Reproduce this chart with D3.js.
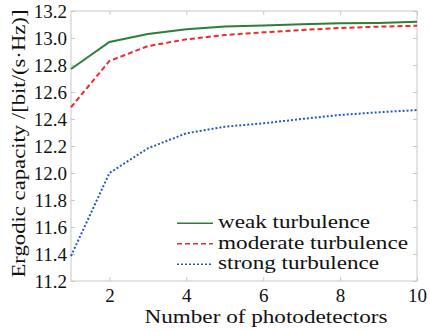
<!DOCTYPE html>
<html>
<head>
<meta charset="utf-8">
<script src="https://cdn.jsdelivr.net/npm/d3@7"></script>
<style>
  body { margin: 0; background: #fff; }
  svg text { font-family: "Liberation Serif", "DejaVu Serif", serif; }
</style>
</head>
<body>
<div id="chart"></div>
<script>
// number of photodetectors
const detectors = [1, 2, 3, 4, 5, 6, 7, 8, 9, 10];

// ergodic capacity, bit/(s*Hz)
const weak = [12.77, 12.97, 13.03, 13.065, 13.085, 13.092, 13.102, 13.109, 13.112, 13.12];
const moderate = [12.487, 12.83, 12.94, 12.99, 13.022, 13.042, 13.059, 13.074, 13.084, 13.091];
const strong = [11.385, 12.0, 12.183, 12.294, 12.343, 12.368, 12.40, 12.43, 12.45, 12.466];

const seriesNames = ["weak turbulence", "moderate turbulence", "strong turbulence"];
const xTicks = [2, 4, 6, 8, 10];
const yTicks = [11.2, 11.4, 11.6, 11.8, 12.0, 12.2, 12.4, 12.6, 12.8, 13.0, 13.2];

const width = 430, height = 332;
const margin = {top: 11, right: 13, bottom: 51, left: 71};
const fontSize = 19;

// the reference face is a wide schoolbook serif, so long strings get stretched
const series = [
  {name: seriesNames[0], values: weak, color: "#2e7d3a", dash: null, len: 152},
  {name: seriesNames[1], values: moderate, color: "#ee2b2b", dash: "5,3", len: 190},
  {name: seriesNames[2], values: strong, color: "#2a56bd", dash: "2,2", len: 161}
];

const svg = d3.select("#chart").append("svg")
  .attr("width", width)
  .attr("height", height);

const x = d3.scaleLinear()
  .domain([1, 10])
  .range([margin.left, width - margin.right]);

const y = d3.scaleLinear()
  .domain([11.2, 13.2])
  .range([height - margin.bottom, margin.top]);

const frame = "#c8c8c8";

// inner ticks on all sides
const tickLen = 4;
svg.append("g")
  .attr("transform", `translate(0,${height - margin.bottom})`)
  .call(d3.axisBottom(x).tickValues(xTicks).tickSize(-tickLen).tickFormat(d3.format("d")))
  .call(g => g.select(".domain").remove())
  .call(g => g.selectAll("line").attr("stroke", frame))
  .call(g => g.selectAll("text").attr("font-size", fontSize).attr("fill", "#111")
    .attr("y", 21).attr("dy", null));

svg.append("g")
  .attr("transform", `translate(${margin.left},0)`)
  .call(d3.axisLeft(y).tickValues(yTicks).tickSize(-tickLen).tickPadding(4).tickFormat(d3.format(".1f")))
  .call(g => g.select(".domain").remove())
  .call(g => g.selectAll("line").attr("stroke", frame))
  .call(g => g.selectAll("text").attr("font-size", fontSize).attr("fill", "#111"));

svg.append("g")
  .attr("transform", `translate(0,${margin.top})`)
  .call(d3.axisTop(x).tickValues(xTicks).tickSize(-tickLen).tickFormat(""))
  .call(g => g.select(".domain").remove())
  .call(g => g.selectAll("line").attr("stroke", frame));

svg.append("g")
  .attr("transform", `translate(${width - margin.right},0)`)
  .call(d3.axisRight(y).tickValues(yTicks).tickSize(-tickLen).tickFormat(""))
  .call(g => g.select(".domain").remove())
  .call(g => g.selectAll("line").attr("stroke", frame));

// frame
svg.append("rect")
  .attr("x", margin.left)
  .attr("y", margin.top)
  .attr("width", width - margin.left - margin.right)
  .attr("height", height - margin.top - margin.bottom)
  .attr("fill", "none")
  .attr("stroke", frame)
  .attr("stroke-width", 1);

const line = d3.line()
  .x((d, i) => x(detectors[i]))
  .y(d => y(d));

svg.selectAll("path.series")
  .data(series)
  .enter()
    .append("path")
    .attr("class", "series")
    .attr("d", d => line(d.values))
    .attr("fill", "none")
    .attr("stroke", d => d.color)
    .attr("stroke-width", 2)
    .attr("stroke-dasharray", d => d.dash);

// legend
const legend = svg.selectAll("g.legend")
  .data(series)
  .enter()
    .append("g")
    .attr("class", "legend")
    .attr("transform", (d, i) => `translate(177, ${223.3 + i * 20.5})`);

legend.append("line")
  .attr("x1", 0)
  .attr("x2", 36)
  .attr("stroke", d => d.color)
  .attr("stroke-width", 1.6)
  .attr("stroke-dasharray", d => d.dash);

legend.append("text")
  .attr("x", 41)
  .attr("y", 4.7)
  .attr("font-size", fontSize)
  .attr("fill", "#111")
  .attr("textLength", d => d.len)
  .attr("lengthAdjust", "spacingAndGlyphs")
  .text(d => d.name);

// axis titles
svg.append("text")
  .attr("x", 266)
  .attr("y", 323)
  .attr("text-anchor", "middle")
  .attr("font-size", fontSize)
  .attr("fill", "#111")
  .attr("textLength", 243)
  .attr("lengthAdjust", "spacingAndGlyphs")
  .text("Number of photodetectors");

svg.append("text")
  .attr("transform", "translate(25, 143.5) rotate(-90)")
  .attr("text-anchor", "middle")
  .attr("font-size", fontSize)
  .attr("fill", "#111")
  .attr("textLength", 268)
  .attr("lengthAdjust", "spacingAndGlyphs")
  .text("Ergodic capacity /[bit/(s·Hz)]");
</script>
</body>
</html>
